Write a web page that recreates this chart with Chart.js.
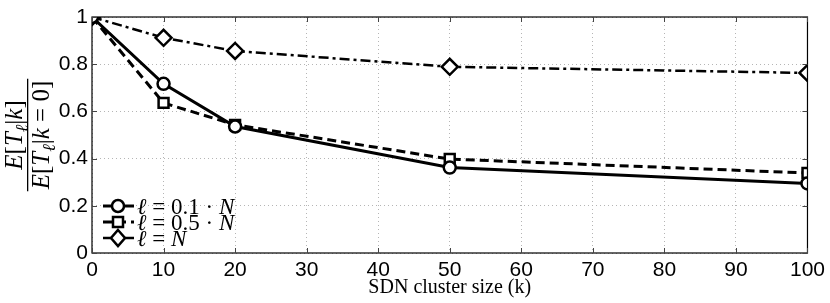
<!DOCTYPE html>
<html>
<head>
<meta charset="utf-8">
<script src="https://cdn.jsdelivr.net/npm/chart.js@4"></script>
<style>
  html, body { margin: 0; padding: 0; background: #fff; }
  #wrap { width: 830px; height: 303px; }
</style>
</head>
<body>
<div id="wrap"><canvas id="ratioChart"></canvas></div>
<script>
// SDN cluster size vs normalised expected time
const clusterSizes = [0, 10, 20, 50, 100];
const ratio01N = [1.0, 0.717, 0.536, 0.362, 0.295];
const ratio05N = [1.0, 0.636, 0.543, 0.398, 0.339];
const ratioN   = [1.0, 0.912, 0.856, 0.789, 0.763];
const xTicks = [0, 10, 20, 30, 40, 50, 60, 70, 80, 90, 100];
const yTicks = [0, 0.2, 0.4, 0.6, 0.8, 1];

const SANS = '"Liberation Sans", Arial, sans-serif';
const SERIF = '"Liberation Serif", "Times New Roman", serif';

function toPoints(values) {
  return clusterSizes.map((k, i) => ({ x: k, y: values[i] }));
}

function runFont(r, size) {
  if (r.s === 'sub') return 'italic ' + Math.round(size * 0.7) + 'px ' + SERIF;
  return (r.s === 'i' ? 'italic ' : '') + size + 'px ' + SERIF;
}

// draws a run of math text pieces centered at cx on baseline baseY
function drawRuns(ctx, runs, cx, baseY, size) {
  let total = 0;
  runs.forEach(r => { ctx.font = runFont(r, size); total += ctx.measureText(r.t).width; });
  let x = cx - total / 2;
  ctx.textAlign = 'left';
  ctx.textBaseline = 'alphabetic';
  runs.forEach(r => {
    ctx.font = runFont(r, size);
    ctx.fillText(r.t, x, r.s === 'sub' ? baseY + size * 0.25 : baseY);
    x += ctx.measureText(r.t).width;
  });
  return total;
}

function runsLeft(ctx, runs, x, baseY, size) {
  let total = 0;
  runs.forEach(r => { ctx.font = runFont(r, size); total += ctx.measureText(r.t).width; });
  drawRuns(ctx, runs, x + total / 2, baseY, size);
}

function drawMarker(ctx, style, x, y) {
  ctx.save();
  ctx.setLineDash([]);
  ctx.lineWidth = 2.5;
  ctx.strokeStyle = '#000';
  ctx.fillStyle = '#fff';
  ctx.beginPath();
  if (style === 'circle') {
    ctx.arc(x, y, 6, 0, Math.PI * 2);
  } else if (style === 'rect') {
    ctx.rect(x - 5, y - 5, 10, 10);
  } else {
    ctx.moveTo(x, y - 8); ctx.lineTo(x + 7, y); ctx.lineTo(x, y + 8); ctx.lineTo(x - 7, y); ctx.closePath();
  }
  ctx.fill();
  ctx.stroke();
  ctx.restore();
}

const legendRows = [
  [{ t: 'ℓ', s: 'i' }, { t: ' = 0.1 · ', s: 'r' }, { t: 'N', s: 'i' }],
  [{ t: 'ℓ', s: 'i' }, { t: ' = 0.5 · ', s: 'r' }, { t: 'N', s: 'i' }],
  [{ t: 'ℓ', s: 'i' }, { t: ' = ', s: 'r' }, { t: 'N', s: 'i' }]
];

const frame = {
  id: 'frame',
  afterDraw(chart) {
    const { ctx, chartArea: a, scales } = chart;
    ctx.save();
    // box
    ctx.setLineDash([]);
    ctx.strokeStyle = '#000';
    ctx.lineWidth = 1.2;
    ctx.strokeRect(a.left, a.top, a.right - a.left, a.bottom - a.top);
    // inward tick marks on all four sides
    ctx.strokeStyle = '#444';
    ctx.lineWidth = 1;
    ctx.beginPath();
    xTicks.forEach(v => {
      const px = Math.round(scales.x.getPixelForValue(v)) + 0.5;
      ctx.moveTo(px, a.bottom); ctx.lineTo(px, a.bottom - 5);
      ctx.moveTo(px, a.top); ctx.lineTo(px, a.top + 5);
    });
    yTicks.forEach(v => {
      const py = Math.round(scales.y.getPixelForValue(v)) + 0.5;
      ctx.moveTo(a.left, py); ctx.lineTo(a.left + 5, py);
      ctx.moveTo(a.right, py); ctx.lineTo(a.right - 5, py);
    });
    ctx.stroke();

    // legend, bottom left inside the plot
    ctx.fillStyle = '#000';
    chart.data.datasets.forEach((ds, i) => {
      const y = 206 + i * 16;
      ctx.save();
      ctx.strokeStyle = '#000';
      ctx.lineWidth = ds.borderWidth;
      ctx.setLineDash(ds.borderDash || []);
      ctx.beginPath();
      ctx.moveTo(103, y); ctx.lineTo(134, y);
      ctx.stroke();
      ctx.restore();
      drawMarker(ctx, ds.pointStyle, 118, y);
      runsLeft(ctx, legendRows[i], 137, y + 8, 23);
    });

    // y axis label as a fraction
    ctx.translate(28, 135);
    ctx.rotate(-Math.PI / 2);
    const num = [{ t: 'E', s: 'i' }, { t: '[', s: 'r' }, { t: 'T', s: 'i' }, { t: 'ℓ', s: 'sub' },
                 { t: '|', s: 'r' }, { t: 'k', s: 'i' }, { t: ']', s: 'r' }];
    const den = [{ t: 'E', s: 'i' }, { t: '[', s: 'r' }, { t: 'T', s: 'i' }, { t: 'ℓ', s: 'sub' },
                 { t: '|', s: 'r' }, { t: 'k', s: 'i' }, { t: ' = 0]', s: 'r' }];
    drawRuns(ctx, num, 0, -6, 25);
    const w = drawRuns(ctx, den, 0, 21, 25);
    ctx.fillRect(-w / 2 - 2, -1, w + 4, 1.3);
    ctx.restore();
  }
};

const ctx = document.getElementById('ratioChart').getContext('2d');
const ratioChart = new Chart(ctx, {
  type: 'line',
  data: {
    datasets: [
      {
        label: 'l = 0.1 N',
        data: toPoints(ratio01N),
        borderColor: '#000',
        borderWidth: 3,
        pointStyle: 'circle',
        pointRadius: 6,
        pointBorderWidth: 2.5,
        pointBackgroundColor: '#fff',
        pointBorderColor: '#000'
      },
      {
        label: 'l = 0.5 N',
        data: toPoints(ratio05N),
        borderColor: '#000',
        borderWidth: 3,
        borderDash: [9, 5],
        pointStyle: 'rect',
        pointRadius: 7,
        pointBorderWidth: 2.5,
        pointBackgroundColor: '#fff',
        pointBorderColor: '#000'
      },
      {
        label: 'l = N',
        data: toPoints(ratioN),
        borderColor: '#000',
        borderWidth: 2.5,
        borderDash: [10, 4, 3, 4],
        pointStyle: 'rectRot',
        pointRadius: 8,
        pointBorderWidth: 2.5,
        pointBackgroundColor: '#fff',
        pointBorderColor: '#000'
      }
    ]
  },
  options: {
    responsive: true,
    maintainAspectRatio: false,
    animation: false,
    events: [],
    layout: { padding: { top: 17, right: 22, left: 0, bottom: 0 } },
    plugins: {
      legend: { display: false },
      tooltip: { enabled: false }
    },
    scales: {
      x: {
        type: 'linear',
        min: 0,
        max: 100,
        afterBuildTicks: s => { s.ticks = xTicks.map(v => ({ value: v })); },
        afterFit: s => { s.height = 50; },
        grid: { color: '#b5b5b5', lineWidth: 1, drawTicks: false },
        border: { display: false, dash: [1, 3] },
        ticks: { color: '#000', padding: 5, font: { family: SANS, size: 21 }, callback: v => String(v) },
        title: {
          display: true,
          text: 'SDN cluster size (k)',
          color: '#000',
          padding: { top: 0, bottom: 3 },
          font: { family: SERIF, size: 20 }
        }
      },
      y: {
        min: 0,
        max: 1,
        afterBuildTicks: s => { s.ticks = yTicks.map(v => ({ value: v })); },
        afterFit: s => { s.width = 92; },
        grid: { color: '#b5b5b5', lineWidth: 1, drawTicks: false },
        border: { display: false, dash: [1, 3] },
        ticks: { color: '#000', padding: 4, font: { family: SANS, size: 21 }, callback: v => String(v) }
      }
    }
  },
  plugins: [frame]
});
</script>
</body>
</html>
